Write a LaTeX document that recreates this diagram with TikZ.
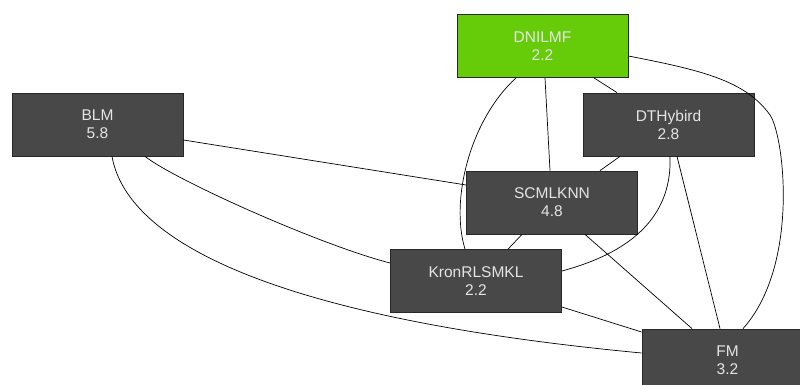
\documentclass[tikz,border=0pt]{standalone}
\usepackage{fontspec}
\setmainfont{Liberation Sans}
\definecolor{boxgray}{RGB}{72,72,72}
\definecolor{boxedge}{RGB}{40,40,40}
\definecolor{bestgreen}{RGB}{102,204,10}
\definecolor{labelgray}{RGB}{228,228,228}
\begin{document}
\begin{tikzpicture}[x=1pt,y=-1pt,
  method/.style={draw=boxedge,fill=boxgray,text=labelgray,line width=0.8pt,
    minimum width=171pt,minimum height=63pt,inner sep=0pt,align=center,
    font=\fontsize{15.5}{18}\selectfont},
  best/.style={method,fill=bestgreen},
  link/.style={line width=0.7pt,black}]
  \useasboundingbox (0,0) rectangle (800,385);
  \node[method] (BLM) at (97.5,124.5) {BLM\\5.8};
  \node[best] (DNILMF) at (542.5,46) {DNILMF\\2.2};
  \node[method] (DTHybird) at (668.5,124.5) {DTHybird\\2.8};
  \node[method] (SCMLKNN) at (552,202.5) {SCMLKNN\\4.8};
  \node[method] (KronRLSMKL) at (476,281) {KronRLSMKL\\2.2};
  \node[method] (FM) at (727.5,360.5) {FM\\3.2};
  % connections
  \draw[link] ([yshift=-15.5pt]BLM.east) -- ([yshift=17.5pt]SCMLKNN.west);
  \draw[link] ([xshift=47.5pt]BLM.south) .. controls (175,180) and (320,245) .. ([yshift=18pt]KronRLSMKL.west);
  \draw[link] ([xshift=14.5pt]BLM.south) .. controls (125,230) and (240,315) .. ([yshift=7.5pt]FM.west);
  \draw[link] ([xshift=-26.5pt]DNILMF.south) .. controls (470,120) and (450,200) .. ([xshift=-11pt]KronRLSMKL.north);
  \draw[link] ([xshift=2.5pt]DNILMF.south) -- ([xshift=-2pt]SCMLKNN.north);
  \draw[link] ([xshift=51.5pt]DNILMF.south) -- ([xshift=-51.5pt]DTHybird.north);
  \draw[link] ([yshift=-10pt]DNILMF.east) .. controls (700,70) and (745,80) .. (770,115)
    .. controls (784,135) and (800,265) .. ([xshift=15.5pt]FM.north);
  \draw[link] ([xshift=-48.5pt]DTHybird.south) -- ([xshift=48pt]SCMLKNN.north);
  \draw[link] ([xshift=1.5pt]DTHybird.south) .. controls (672,210) and (640,250) .. ([yshift=10pt]KronRLSMKL.east);
  \draw[link] ([xshift=8.5pt]DTHybird.south) -- ([xshift=-7.5pt]FM.north);
  \draw[link] ([xshift=-30pt]SCMLKNN.south) -- ([xshift=32pt]KronRLSMKL.north);
  \draw[link] ([xshift=33pt]SCMLKNN.south) -- ([xshift=-35.5pt]FM.north);
  \draw[link] ([yshift=-26pt]KronRLSMKL.east) -- ([yshift=28.5pt]FM.west);
\end{tikzpicture}
\end{document}
